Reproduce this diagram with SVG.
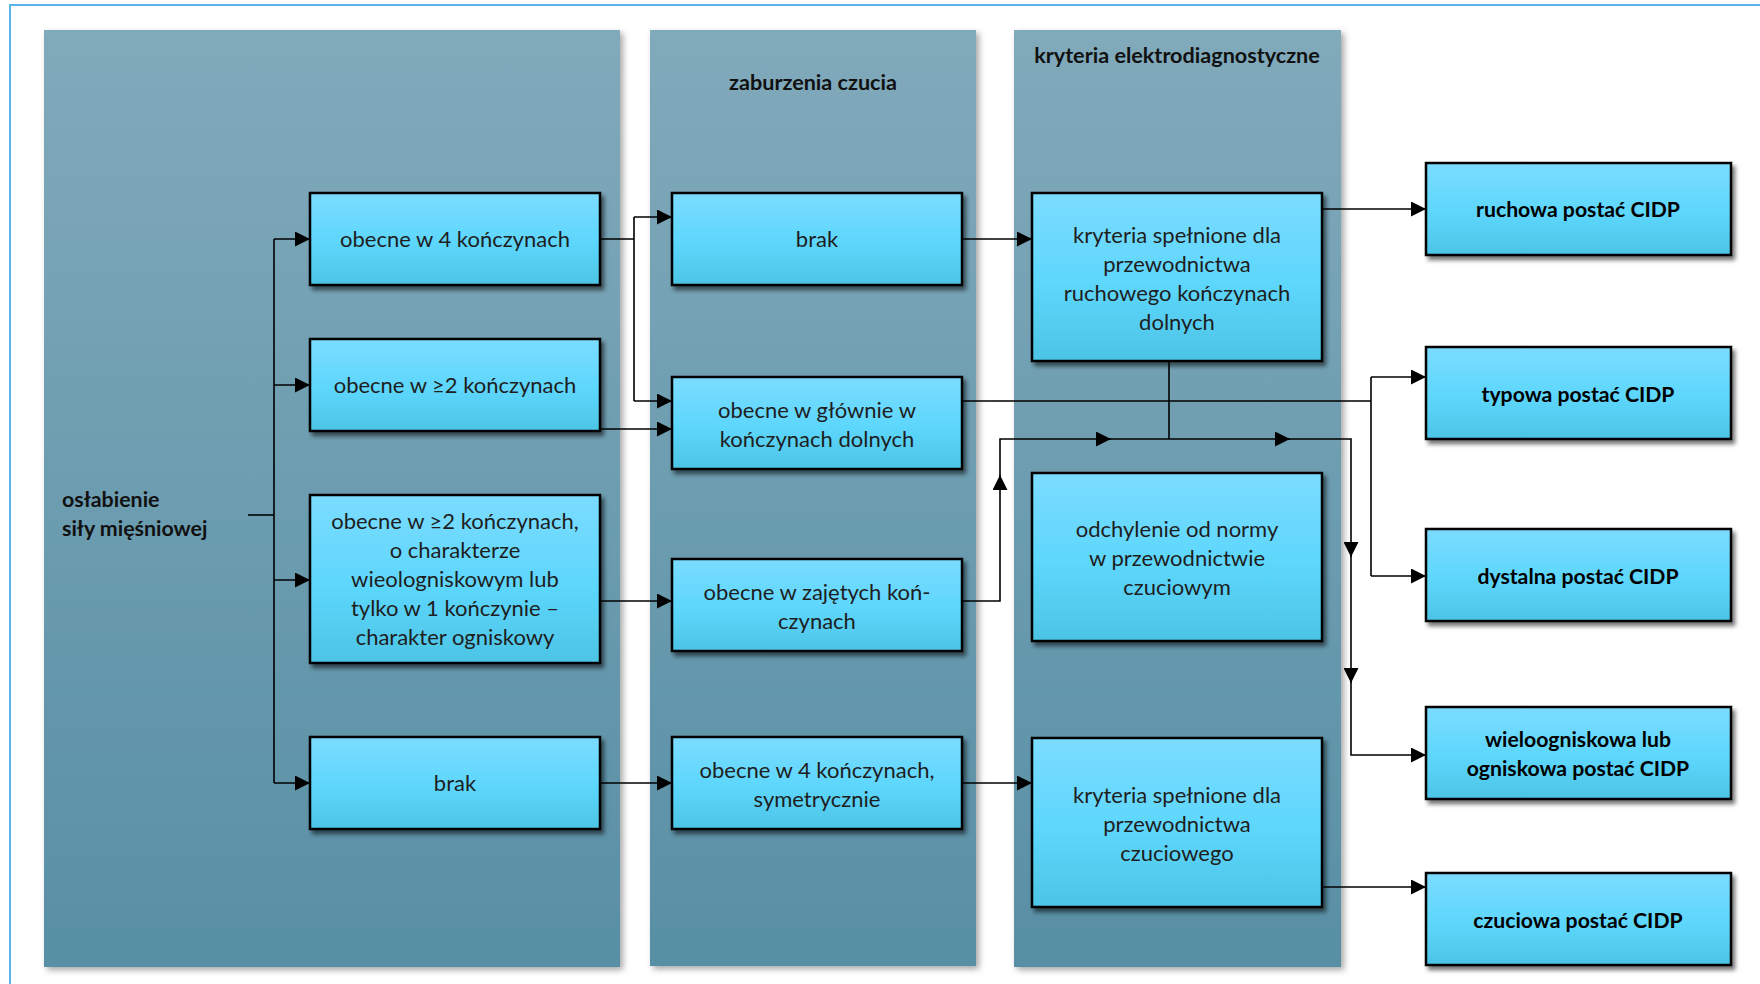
<svg xmlns="http://www.w3.org/2000/svg" width="1760" height="984" viewBox="0 0 1760 984">
<defs>
<linearGradient id="laneGrad" x1="0" y1="0" x2="0" y2="1">
<stop offset="0" stop-color="#81aabb"/>
<stop offset="1" stop-color="#588fa5"/>
</linearGradient>
<linearGradient id="boxGrad" x1="0" y1="0" x2="0" y2="1">
<stop offset="0" stop-color="#7bdcff"/>
<stop offset="0.55" stop-color="#5dd6fc"/>
<stop offset="1" stop-color="#4cc4e5"/>
</linearGradient>
<filter id="laneShadow" x="-5%" y="-5%" width="112%" height="112%">
<feDropShadow dx="3" dy="3" stdDeviation="3" flood-color="#000" flood-opacity="0.35"/>
</filter>
<filter id="boxShadow" x="-5%" y="-10%" width="115%" height="130%">
<feDropShadow dx="3" dy="4" stdDeviation="2" flood-color="#000" flood-opacity="0.55"/>
</filter>
<marker id="arr" markerUnits="userSpaceOnUse" markerWidth="15" markerHeight="15" refX="15" refY="7.5" orient="auto">
<path d="M0,0 L15,7.5 L0,15 z" fill="#000"/>
</marker>
<style>
.lane{fill:url(#laneGrad);filter:url(#laneShadow);}
.box{fill:url(#boxGrad);stroke:#000;stroke-width:2.5;filter:url(#boxShadow);}
.t{font-family:Lato,"Open Sans","Liberation Sans",sans-serif;font-size:22px;fill:#1e1e1e;text-anchor:middle;}
.tb{font-family:Lato,"Open Sans","Liberation Sans",sans-serif;font-size:21.2px;font-weight:bold;fill:#000;text-anchor:middle;}
.title{font-family:Lato,"Open Sans","Liberation Sans",sans-serif;font-size:21.6px;font-weight:bold;fill:#111;text-anchor:middle;}
.lbl{font-family:Lato,"Open Sans","Liberation Sans",sans-serif;font-size:21.4px;font-weight:bold;fill:#111;}
.c{fill:none;stroke:#000;stroke-width:1.6;}
.a{fill:none;stroke:#000;stroke-width:1.6;marker-end:url(#arr);}
</style>
</defs>
<rect x="0" y="0" width="1760" height="984" fill="#fff"/>
<rect x="10" y="5" width="1800" height="1100" fill="none" stroke="#5ab6e6" stroke-width="2"/>

<g id="lane-sila">
<rect class="lane" x="44" y="30" width="576" height="937"/>
<text class="lbl" x="62" y="507">osłabienie</text>
<text class="lbl" x="62" y="536">siły mięśniowej</text>
</g>
<g id="lane-czucie">
<rect class="lane" x="650" y="30" width="326" height="936"/>
<text class="title" x="813" y="90">zaburzenia czucia</text>
</g>
<g id="lane-elektro">
<rect class="lane" x="1014" y="30" width="327" height="937"/>
<text class="title" x="1177" y="63">kryteria elektrodiagnostyczne</text>
</g>

<g id="connectors">
<path class="c" d="M248,515 H274"/>
<path class="c" d="M274,239 V783"/>
<path class="a" d="M274,239 H310"/>
<path class="a" d="M274,385 H310"/>
<path class="a" d="M274,580 H310"/>
<path class="a" d="M274,783 H310"/>
<path class="c" d="M600,239 H634 M634,217 V401"/>
<path class="a" d="M634,217 H672"/>
<path class="a" d="M634,401 H672"/>
<path class="a" d="M600,429 H672"/>
<path class="a" d="M600,601 H672"/>
<path class="a" d="M600,783 H672"/>
<path class="a" d="M962,239 H1032"/>
<path class="a" d="M962,783 H1032"/>
<path class="a" d="M962,601 H1000 V475"/>
<path class="a" d="M1000,476 V439 H1111"/>
<path class="a" d="M1110,439 H1290"/>
<path class="a" d="M1289,439 H1351 V557"/>
<path class="a" d="M1351,556 V683"/>
<path class="a" d="M1351,682 V755 H1426"/>
<path class="c" d="M1169,361 V439"/>
<path class="a" d="M1322,209 H1426"/>
<path class="c" d="M962,401 H1371 M1371,377 V576"/>
<path class="a" d="M1371,377 H1426"/>
<path class="a" d="M1371,576 H1426"/>
<path class="a" d="M1322,887 H1426"/>
</g>

<g id="n-4konczyny">
<rect class="box" x="310" y="193" width="290" height="92"/>
<text class="t" x="455" y="247">obecne w 4 kończynach</text>
</g>
<g id="n-2konczyny">
<rect class="box" x="310" y="339" width="290" height="92"/>
<text class="t" x="455" y="393">obecne w ≥2 kończynach</text>
</g>
<g id="n-ogniskowe">
<rect class="box" x="310" y="495" width="290" height="168"/>
<text class="t" x="455" y="529">obecne w ≥2 kończynach,</text>
<text class="t" x="455" y="558">o charakterze</text>
<text class="t" x="455" y="587">wieologniskowym lub</text>
<text class="t" x="455" y="616">tylko w 1 kończynie –</text>
<text class="t" x="455" y="645">charakter ogniskowy</text>
</g>
<g id="n-brak1">
<rect class="box" x="310" y="737" width="290" height="92"/>
<text class="t" x="455" y="791">brak</text>
</g>

<g id="n-brak2">
<rect class="box" x="672" y="193" width="290" height="92"/>
<text class="t" x="817" y="247">brak</text>
</g>
<g id="n-dolne">
<rect class="box" x="672" y="377" width="290" height="92"/>
<text class="t" x="817" y="418">obecne w głównie w</text>
<text class="t" x="817" y="447">kończynach dolnych</text>
</g>
<g id="n-zajete">
<rect class="box" x="672" y="559" width="290" height="92"/>
<text class="t" x="817" y="600">obecne w zajętych koń-</text>
<text class="t" x="817" y="629">czynach</text>
</g>
<g id="n-symetr">
<rect class="box" x="672" y="737" width="290" height="92"/>
<text class="t" x="817" y="778">obecne w 4 kończynach,</text>
<text class="t" x="817" y="807">symetrycznie</text>
</g>

<g id="n-kryt-ruch">
<rect class="box" x="1032" y="193" width="290" height="168"/>
<text class="t" x="1177" y="243">kryteria spełnione dla</text>
<text class="t" x="1177" y="272">przewodnictwa</text>
<text class="t" x="1177" y="301">ruchowego kończynach</text>
<text class="t" x="1177" y="330">dolnych</text>
</g>
<g id="n-odchylenie">
<rect class="box" x="1032" y="473" width="290" height="168"/>
<text class="t" x="1177" y="537">odchylenie od normy</text>
<text class="t" x="1177" y="566">w przewodnictwie</text>
<text class="t" x="1177" y="595">czuciowym</text>
</g>
<g id="n-kryt-czuc">
<rect class="box" x="1032" y="738" width="290" height="169"/>
<text class="t" x="1177" y="803">kryteria spełnione dla</text>
<text class="t" x="1177" y="832">przewodnictwa</text>
<text class="t" x="1177" y="861">czuciowego</text>
</g>

<g id="n-ruchowa">
<rect class="box" x="1426" y="163" width="305" height="92"/>
<text class="tb" x="1578" y="217">ruchowa postać CIDP</text>
</g>
<g id="n-typowa">
<rect class="box" x="1426" y="347" width="305" height="92"/>
<text class="tb" x="1578" y="402">typowa postać CIDP</text>
</g>
<g id="n-dystalna">
<rect class="box" x="1426" y="529" width="305" height="92"/>
<text class="tb" x="1578" y="584">dystalna postać CIDP</text>
</g>
<g id="n-wielo">
<rect class="box" x="1426" y="707" width="305" height="92"/>
<text class="tb" x="1578" y="747">wieloogniskowa lub</text>
<text class="tb" x="1578" y="776">ogniskowa postać CIDP</text>
</g>
<g id="n-czuciowa">
<rect class="box" x="1426" y="873" width="305" height="92"/>
<text class="tb" x="1578" y="928">czuciowa postać CIDP</text>
</g>
</svg>
